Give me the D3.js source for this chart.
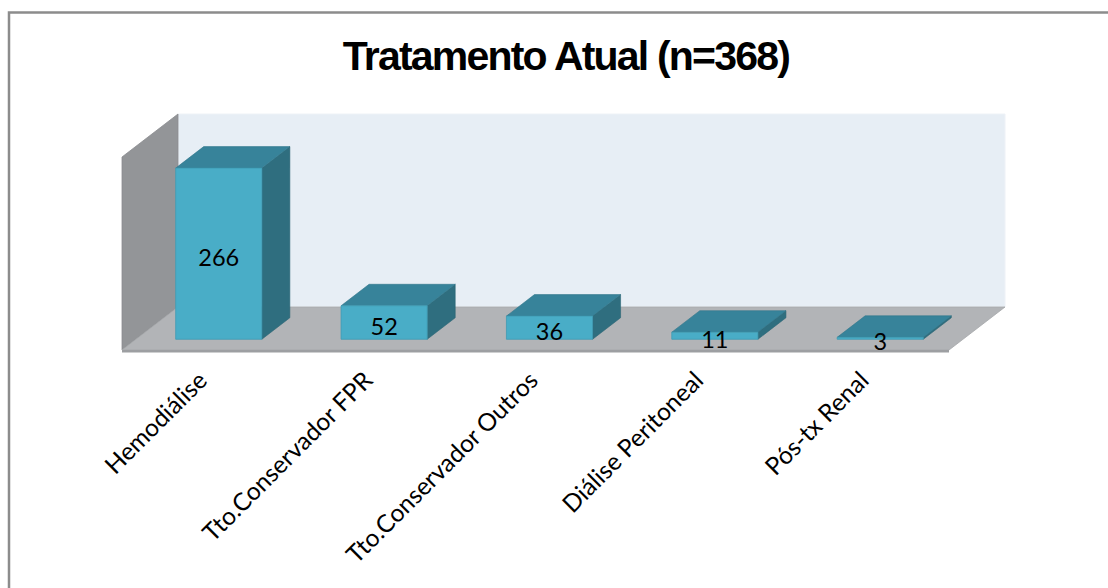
<!DOCTYPE html>
<html>
<head>
<meta charset="utf-8">
<script src="https://cdn.jsdelivr.net/npm/d3@7"></script>
<style>
  html, body { margin: 0; padding: 0; background: #ffffff; }
  svg { display: block; }
</style>
</head>
<body>
<svg id="chart" width="1108" height="588"></svg>
<script>
// ---- data ----
const title = "Tratamento Atual (n=368)";
const categories = ["Hemodiálise", "Tto.Conservador FPR", "Tto.Conservador Outros", "Diálise Peritoneal", "Pós-tx Renal"];
const values = [266, 52, 36, 11, 3];
const axisMax = 300;

// ---- layout ----
const W = 1108, H = 588;
const floorLeft = 122, floorRight = 949, floorFrontY = 350;
const wallHeight = 193;
const DX = 56, DY = 43;          // depth offset (back plane)
const zFront = 0.25, zBack = 0.75; // bar depth range

const svg = d3.select("#chart");
const font = "Lato, 'Open Sans', sans-serif";

// outer frame
svg.append("rect")
  .attr("x", 9).attr("y", 12.5).attr("width", 1200).attr("height", 700)
  .attr("fill", "none").attr("stroke", "#8c8c8c").attr("stroke-width", 2.5);

const x = d3.scaleBand().domain(categories).range([floorLeft, floorRight])
  .paddingInner(0.479).paddingOuter(0.24);
const y = d3.scaleLinear().domain([0, axisMax]).range([floorFrontY, floorFrontY - wallHeight]);

// projection: px at front plane, value, depth z in [0,1]
const P = (px, v, z) => [px + z * DX, y(v) - z * DY];
const poly = pts => pts.map(p => p.join(",")).join(" ");

const g = svg.append("g");

// back wall
g.append("polygon")
  .attr("points", poly([P(floorLeft, 0, 1), P(floorRight, 0, 1), P(floorRight, axisMax, 1), P(floorLeft, axisMax, 1)]))
  .attr("fill", "#e7eef5").attr("stroke", "#eef2f7").attr("stroke-width", 1);

// side wall
g.append("polygon")
  .attr("points", poly([P(floorLeft, 0, 0), P(floorLeft, 0, 1), P(floorLeft, axisMax, 1), P(floorLeft, axisMax, 0)]))
  .attr("fill", "#939598").attr("stroke", "#8a8c8f").attr("stroke-width", 0.8);

// floor
g.append("polygon")
  .attr("points", poly([P(floorLeft, 0, 0), P(floorRight, 0, 0), P(floorRight, 0, 1), P(floorLeft, 0, 1)]))
  .attr("fill", "#b2b4b7").attr("stroke", "#a5a7aa").attr("stroke-width", 0.8);
// floor front edge (thickness)
g.append("polygon")
  .attr("points", poly([P(floorLeft, 0, 0), P(floorRight, 0, 0), [floorRight, floorFrontY + 2.5], [floorLeft, floorFrontY + 2.5]]))
  .attr("fill", "#9d9fa2");

// bars
const bars = g.selectAll("g.bar").data(categories.map((c, i) => ({c, v: values[i]}))).join("g").attr("class", "bar");
bars.each(function(d) {
  const s = d3.select(this);
  const x0 = x(d.c), x1 = x(d.c) + x.bandwidth();
  // side
  s.append("polygon")
    .attr("points", poly([P(x1, 0, zFront), P(x1, 0, zBack), P(x1, d.v, zBack), P(x1, d.v, zFront)]))
    .attr("fill", "#2f6e7f").attr("stroke", "#2a6474").attr("stroke-width", 0.6);
  // top
  s.append("polygon")
    .attr("points", poly([P(x0, d.v, zFront), P(x1, d.v, zFront), P(x1, d.v, zBack), P(x0, d.v, zBack)]))
    .attr("fill", "#37839a").attr("stroke", "#317589").attr("stroke-width", 0.6);
  // front
  s.append("polygon")
    .attr("points", poly([P(x0, 0, zFront), P(x1, 0, zFront), P(x1, d.v, zFront), P(x0, d.v, zFront)]))
    .attr("fill", "#49adc7").attr("stroke", "#3f9bb3").attr("stroke-width", 0.8);
});

// data labels
g.selectAll("text.val").data(categories.map((c, i) => ({c, v: values[i]}))).join("text")
  .attr("class", "val")
  .attr("x", d => P(x(d.c) + x.bandwidth() / 2, 0, zFront)[0])
  .attr("y", d => (P(0, 0, zFront)[1] + P(0, d.v, zFront)[1]) / 2 + 3)
  .attr("dominant-baseline", "central")
  .attr("text-anchor", "middle")
  .attr("font-family", font).attr("font-size", 23.5).attr("fill", "#000")
  .text(d => d.v);

// category labels
g.selectAll("text.cat").data(categories).join("text")
  .attr("class", "cat")
  .attr("transform", d => `translate(${x(d) + x.bandwidth() / 2 + 4},${floorFrontY + 32}) rotate(-45)`)
  .attr("text-anchor", "end")
  .attr("font-family", font).attr("font-size", 24.5).attr("fill", "#000")
  .text(d => d);

// title
svg.append("text")
  .attr("x", 566).attr("y", 70)
  .attr("text-anchor", "middle")
  .attr("font-family", "'Liberation Sans', Arial, sans-serif").attr("font-weight", "bold")
  .attr("font-size", 41).attr("letter-spacing", -1.8).attr("fill", "#000")
  .text(title);
</script>
</body>
</html>
